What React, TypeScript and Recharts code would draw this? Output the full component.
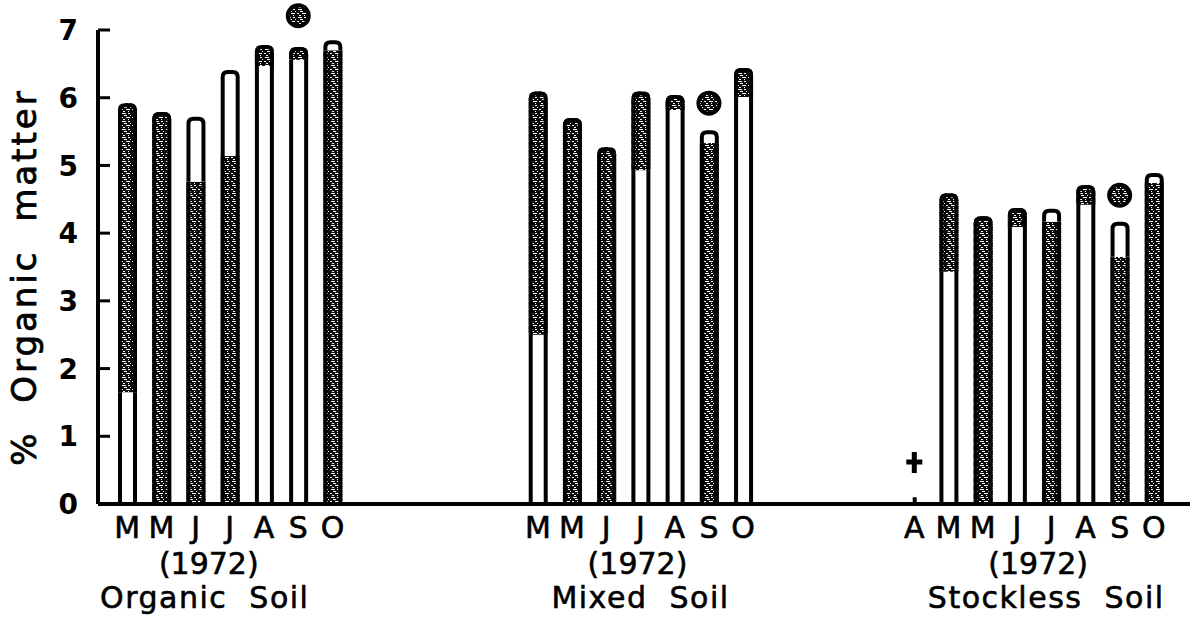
import React from 'react';
import { ComposedChart, Bar, XAxis, YAxis, ReferenceDot } from 'recharts';

// ---------- data ----------
const organicMonths = ['M', 'M', 'J', 'J', 'A', 'S', 'O'];
const organicLowerWhite = [1.65, 0, 0, 0, 6.47, 6.56, 0];
const organicDark = [4.27, 5.79, 4.76, 5.14, 0.31, 0.19, 6.7];
const organicUpperWhite = [0, 0, 0.96, 1.27, 0, 0, 0.15];
const organicMarker = [null, null, null, null, null, 7.21, null];

const mixedMonths = ['M', 'M', 'J', 'J', 'A', 'S', 'O'];
const mixedLowerWhite = [2.5, 0, 0, 4.93, 5.82, 0, 6.01];
const mixedDark = [3.59, 5.7, 5.27, 1.16, 0.22, 5.33, 0.43];
const mixedUpperWhite = [0, 0, 0, 0, 0, 0.19, 0];
const mixedMarker = [null, null, null, null, null, 5.92, null];

const stocklessMonths = ['A', 'M', 'M', 'J', 'J', 'A', 'S', 'O'];
const stocklessTrace = [0.1, 0, 0, 0, 0, 0, 0, 0];
const stocklessLowerWhite = [0, 3.43, 0, 4.09, 0, 4.42, 0, 0];
const stocklessDark = [0, 1.16, 4.25, 0.28, 4.17, 0.29, 3.65, 4.74];
const stocklessUpperWhite = [0, 0, 0, 0, 0.19, 0, 0.52, 0.15];
const stocklessMarker = [null, null, null, null, null, null, 4.56, null];
const stocklessCross = [0.62, null, null, null, null, null, null, null];

const yTicks = [0, 1, 2, 3, 4, 5, 6, 7];
const yearLabel = '(1972)';
const groupNames = ['Organic\u00a0\u00a0Soil', 'Mixed\u00a0\u00a0Soil', 'Stockless\u00a0\u00a0Soil'];
const yAxisTitle = '%\u00a0\u00a0Organic\u00a0\u00a0matter';

// ---------- layout (not data) ----------
const gapAfterOrganic = 5;
const gapAfterMixed = 4;
const labelLayout = [
  { anchor: 3, yearDx: -21, nameDx: -25 },
  { anchor: 3, yearDx: -3, nameDx: 0 },
  { anchor: 4, yearDx: -13, nameDx: -5 },
];
const FONT = 'DejaVu Sans';
const B = 4;

type Row = {
  id: string;
  month: string;
  trace?: number;
  lowW?: number;
  dark?: number;
  upW?: number;
  marker?: number | null;
  cross?: number | null;
  year?: string;
  name?: string;
  yearDx?: number;
  nameDx?: number;
};

function groupRows(
  prefix: string,
  months: string[],
  low: number[],
  dark: number[],
  up: number[],
  marker: (number | null)[],
  g: number,
  trace?: number[],
  cross?: (number | null)[]
): Row[] {
  return months.map((m, i) => {
    const r: Row = {
      id: `${prefix}${i}`,
      month: m,
      trace: trace ? trace[i] : 0,
      lowW: low[i],
      dark: dark[i],
      upW: up[i],
      marker: marker[i],
      cross: cross ? cross[i] : null,
    };
    if (i === labelLayout[g].anchor) {
      r.year = yearLabel;
      r.name = groupNames[g];
      r.yearDx = labelLayout[g].yearDx;
      r.nameDx = labelLayout[g].nameDx;
    }
    return r;
  });
}

const gapRows = (prefix: string, n: number): Row[] =>
  Array.from({ length: n }, (_, i) => ({ id: `${prefix}${i}`, month: '' }));

const rows: Row[] = [
  ...groupRows('o', organicMonths, organicLowerWhite, organicDark, organicUpperWhite, organicMarker, 0),
  ...gapRows('ga', gapAfterOrganic),
  ...groupRows('m', mixedMonths, mixedLowerWhite, mixedDark, mixedUpperWhite, mixedMarker, 1),
  ...gapRows('gb', gapAfterMixed),
  ...groupRows('s', stocklessMonths, stocklessLowerWhite, stocklessDark, stocklessUpperWhite, stocklessMarker, 2, stocklessTrace, stocklessCross),
];
const rowById: Record<string, Row> = {};
rows.forEach((r) => (rowById[r.id] = r));

const stackKeys = ['trace', 'lowW', 'dark', 'upW'];

function makeShape(key: string, kind: 'trace' | 'white' | 'dark') {
  return (p: any) => {
    const { x, y, width, height, payload } = p;
    const v = payload ? payload[key] : 0;
    if (!v || !(height > 0)) return <g />;
    if (kind === 'trace') {
      return <rect x={x + width / 2 - 2} y={y} width={4} height={height} fill="#000" />;
    }
    const idx = stackKeys.indexOf(key);
    const isTop = stackKeys.slice(idx + 1).every((k) => !payload[k]);
    const fill = kind === 'dark' ? 'url(#stip)' : '#fff';
    const h = B / 2;
    if (isTop) {
      const r = 7;
      const fillPath = `M${x},${y + height} L${x},${y + r} Q${x},${y} ${x + r},${y} L${x + width - r},${y} Q${x + width},${y} ${x + width},${y + r} L${x + width},${y + height} Z`;
      const strokePath = `M${x + h},${y + height} L${x + h},${y + r} Q${x + h},${y + h} ${x + r},${y + h} L${x + width - r},${y + h} Q${x + width - h},${y + h} ${x + width - h},${y + r} L${x + width - h},${y + height}`;
      return (
        <g>
          <path d={fillPath} fill={fill} />
          <path d={strokePath} fill="none" stroke="#000" strokeWidth={B} />
        </g>
      );
    }
    return (
      <g>
        <rect x={x} y={y} width={width} height={height} fill={fill} />
        <rect x={x} y={y} width={B} height={height} fill="#000" />
        <rect x={x + width - B} y={y} width={B} height={height} fill="#000" />
      </g>
    );
  };
}

const YTick = (p: any) => {
  const { x, y, payload } = p;
  return (
    <g>
      <line x1={x + 20} x2={x + 32} y1={y} y2={y} stroke="#000" strokeWidth={3} />
      <text x={x} y={y} dy="0.36em" textAnchor="end" fontFamily={FONT} fontSize={28} fontWeight="bold" fill="#000">
        {payload.value}
      </text>
    </g>
  );
};

const XTick = (p: any) => {
  const { x, y, payload } = p;
  const row = rowById[payload.value];
  if (!row || !row.month) return <g />;
  return (
    <g fontFamily={FONT} fill="#000" stroke="#000" strokeWidth={0.6} textAnchor="middle" fontSize={30}>
      <text x={x} y={y + 23} dy="0.36em">
        {row.month}
      </text>
      {row.year && (
        <text x={x + (row.yearDx || 0)} y={y + 59} dy="0.36em">
          {row.year}
        </text>
      )}
      {row.name && (
        <text x={x + (row.nameDx || 0)} y={y + 93} dy="0.36em" letterSpacing={1.5}>
          {row.name}
        </text>
      )}
    </g>
  );
};

const MarkerShape = (p: any) => {
  const { cx, cy } = p;
  return (
    <g>
      <circle cx={cx} cy={cy} r={12.5} fill="#000" />
      <circle cx={cx} cy={cy} r={8.5} fill="url(#stip)" />
    </g>
  );
};

const CrossShape = (p: any) => {
  const { cx, cy } = p;
  return (
    <path
      d={`M${cx - 8},${cy} H${cx + 8} M${cx},${cy - 10} V${cy + 11}`}
      stroke="#000"
      strokeWidth={5}
      fill="none"
    />
  );
};

export default function App() {
  return (
    <div style={{ position: 'absolute', left: 0, top: 0, background: '#fff' }}>
      <ComposedChart
        width={1201}
        height={619}
        data={rows}
        margin={{ top: 30, right: 11, bottom: 15, left: 38 }}
        barCategoryGap={0}
      >
        <defs>
          <pattern id="stip" width="11" height="8" patternUnits="userSpaceOnUse">
            <rect width="11" height="8" fill="#0a0a0a" />
            <rect x="1" y="1" width="4" height="1" fill="#fff" />
            <rect x="7" y="1" width="2" height="1" fill="#fff" />
            <rect x="3" y="3" width="3" height="1" fill="#fff" />
            <rect x="9" y="3" width="1" height="1" fill="#fff" />
            <rect x="0" y="5" width="2" height="1" fill="#fff" />
            <rect x="5" y="5" width="4" height="1" fill="#fff" />
            <rect x="2" y="7" width="2" height="1" fill="#fff" />
            <rect x="7" y="7" width="1" height="1" fill="#fff" />
          </pattern>
        </defs>
        <XAxis
          dataKey="id"
          interval={0}
          axisLine={{ stroke: '#000', strokeWidth: 4 }}
          tickLine={false}
          tickSize={0}
          tickMargin={0}
          height={100}
          padding={{ left: 12, right: 19 }}
          tick={<XTick />}
        />
        <YAxis
          type="number"
          domain={[0, 7]}
          ticks={yTicks}
          width={60}
          axisLine={{ stroke: '#000', strokeWidth: 4 }}
          tickLine={false}
          tickSize={0}
          tickMargin={20}
          tick={<YTick />}
          label={{
            content: (lp: any) => {
              const vb = lp.viewBox || { x: 38, y: 30, width: 60, height: 474 };
              const cx = 24;
              const cy = vb.y + vb.height / 2 + 10;
              return (
                <text
                  transform={`translate(${cx}, ${cy}) rotate(-90)`}
                  textAnchor="middle"
                  dy="0.36em"
                  fontFamily={FONT}
                  fontSize={34}
                  letterSpacing={3}
                  fill="#000"
                  stroke="#000"
                  strokeWidth={0.8}
                >
                  {yAxisTitle}
                </text>
              );
            },
          }}
        />
        <Bar dataKey="trace" stackId="a" barSize={19} shape={makeShape('trace', 'trace')} isAnimationActive={false} />
        <Bar dataKey="lowW" stackId="a" barSize={19} shape={makeShape('lowW', 'white')} isAnimationActive={false} />
        <Bar dataKey="dark" stackId="a" barSize={19} shape={makeShape('dark', 'dark')} isAnimationActive={false} />
        <Bar dataKey="upW" stackId="a" barSize={19} shape={makeShape('upW', 'white')} isAnimationActive={false} />
        {rows
          .filter((r) => r.marker != null)
          .map((r) => (
            <ReferenceDot key={`mk-${r.id}`} x={r.id} y={r.marker as number} r={12} ifOverflow="visible" shape={MarkerShape} />
          ))}
        {rows
          .filter((r) => r.cross != null)
          .map((r) => (
            <ReferenceDot key={`cr-${r.id}`} x={r.id} y={r.cross as number} r={10} ifOverflow="visible" shape={CrossShape} />
          ))}
      </ComposedChart>
    </div>
  );
}
